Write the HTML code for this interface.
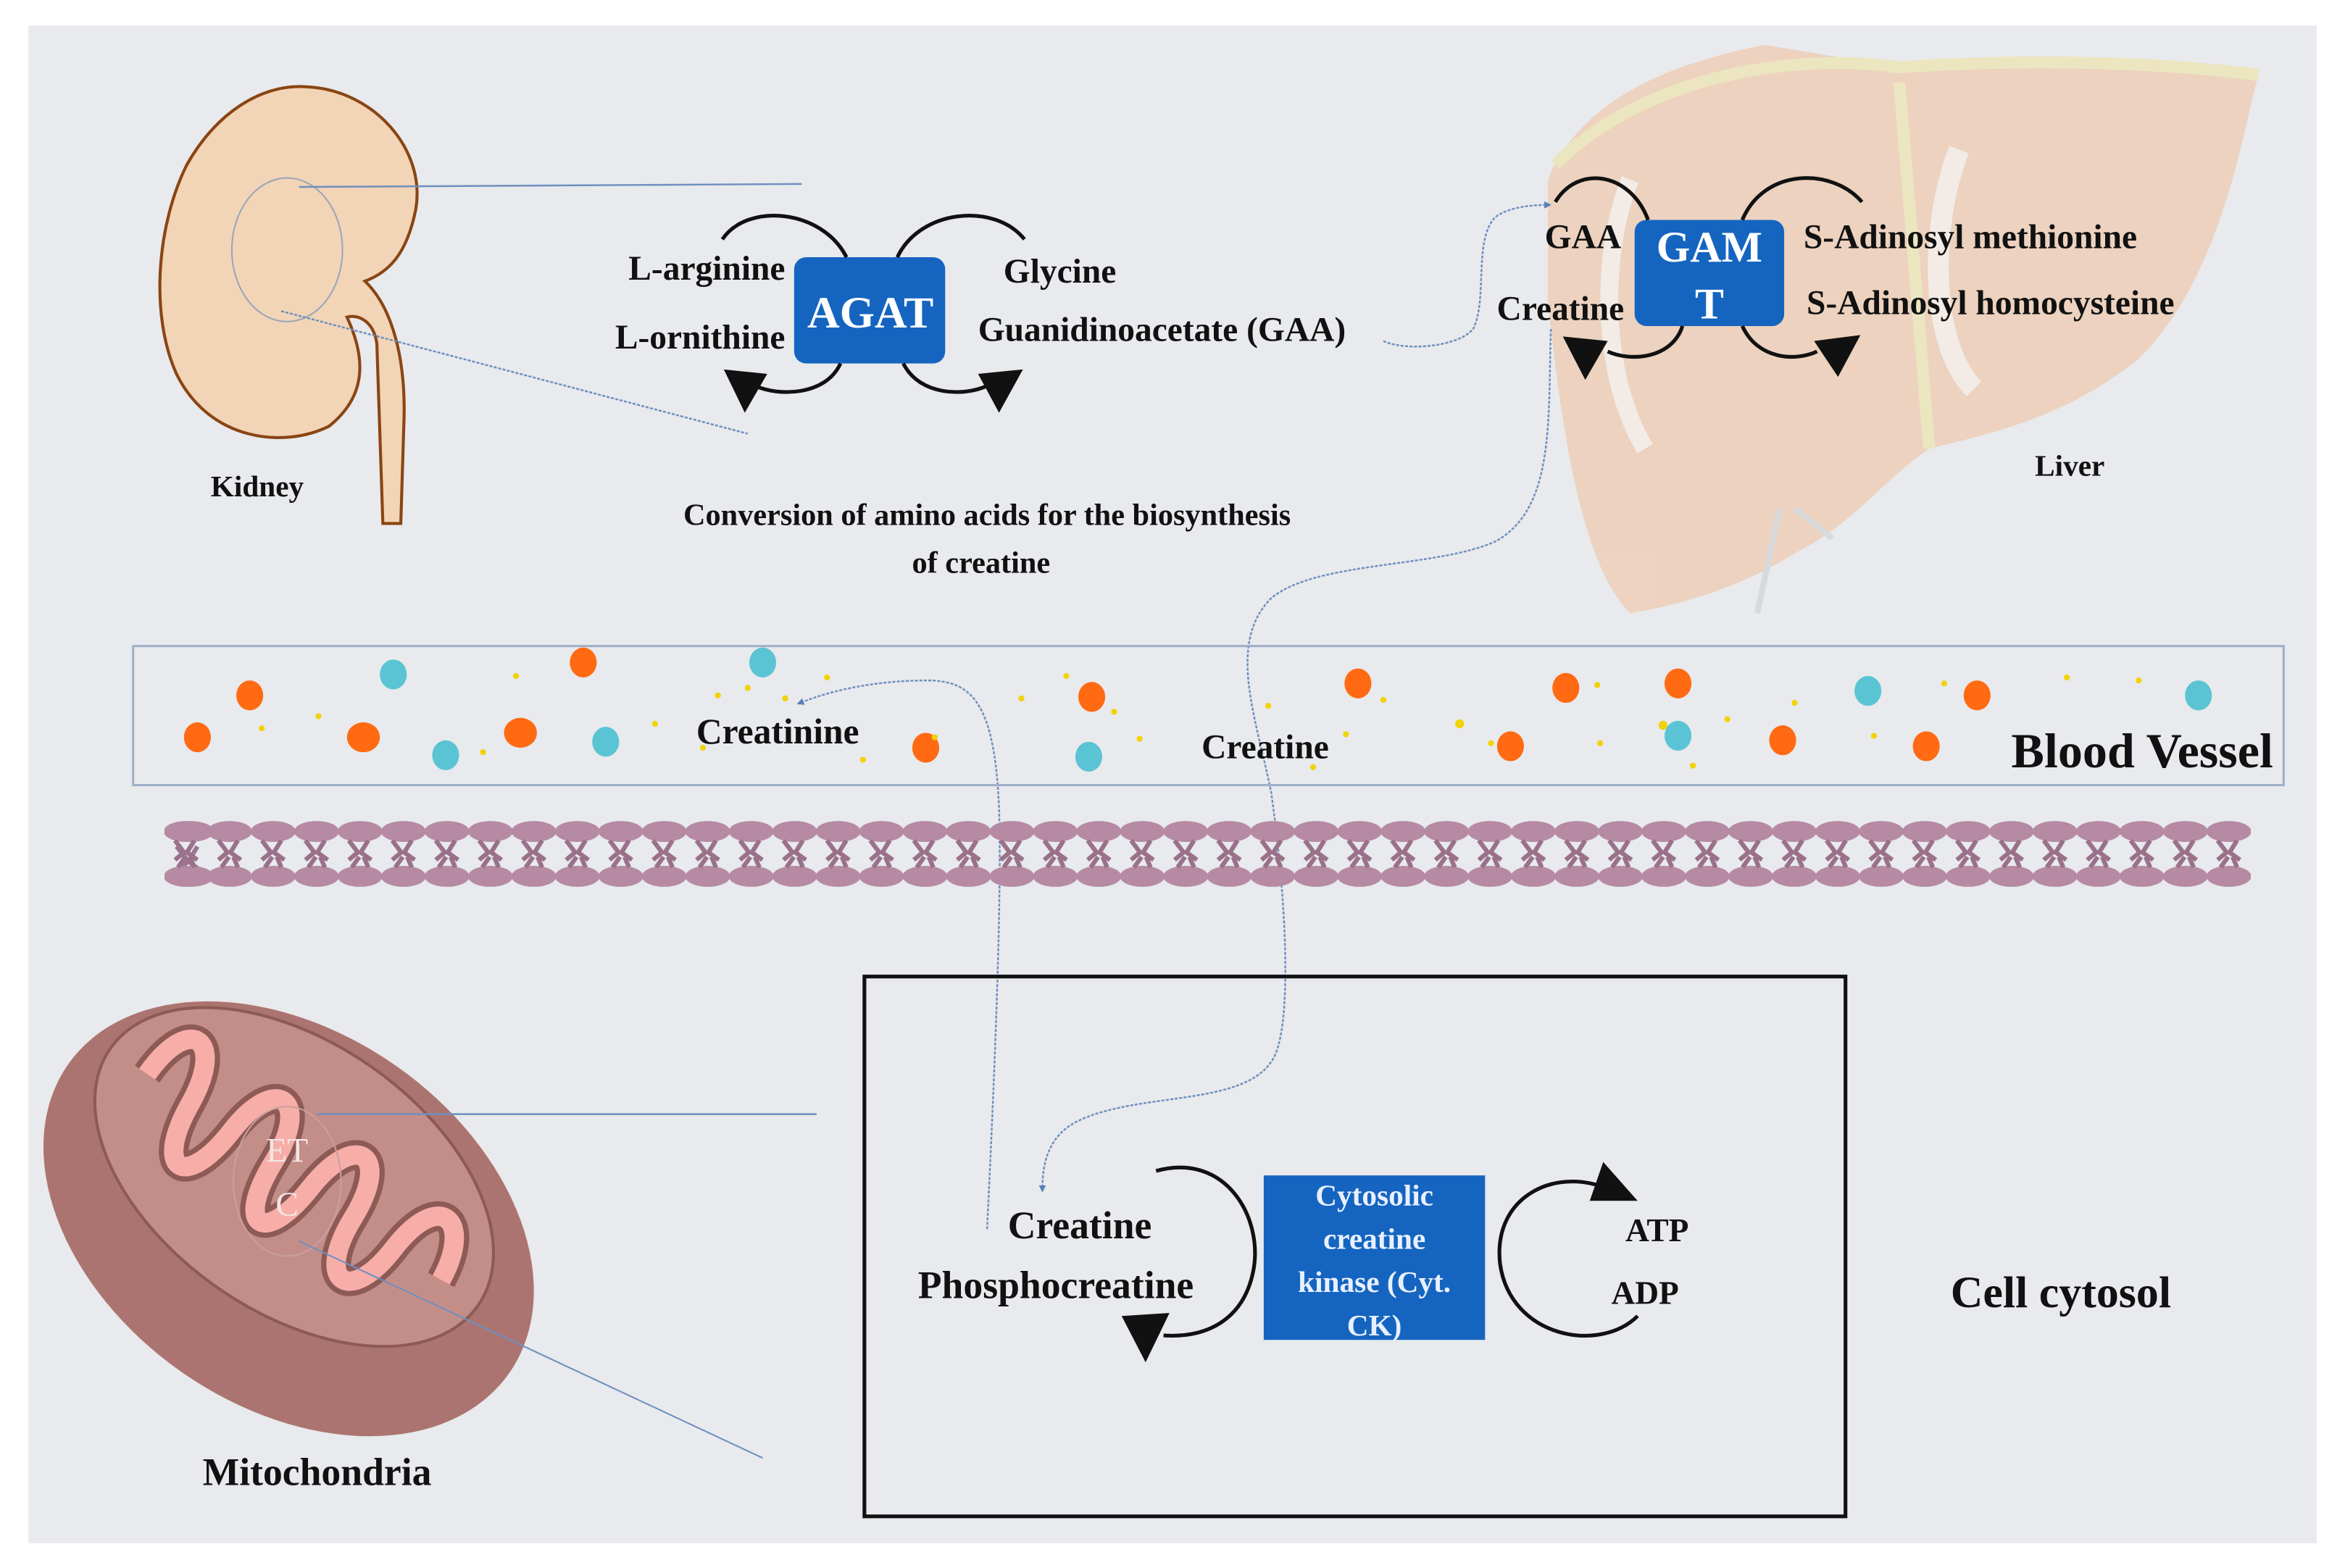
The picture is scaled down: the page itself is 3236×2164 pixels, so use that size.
<!DOCTYPE html>
<html><head><meta charset="utf-8"><style>html,body{margin:0;padding:0;background:#fff}svg{display:block}text{font-family:"Liberation Serif",serif;font-weight:bold;fill:#111}</style></head>
<body>
<svg width="3236" height="2164" viewBox="0 0 1568 1048.5" xmlns="http://www.w3.org/2000/svg">
<defs>
<marker id="ah" viewBox="0 0 10 10" refX="5" refY="5" markerWidth="4" markerHeight="4" orient="auto"><path d="M0,0 L10,5 L0,10 z" fill="#5b7fb5"/></marker>
</defs>
<rect x="0" y="0" width="1568" height="1048.5" fill="#fff"/>
<rect x="19" y="17" width="1530" height="1015" fill="#e8eaed"/>

<!-- Liver -->
<g opacity="0.55">
<path d="M1035,120 C1060,60 1130,40 1180,30 L1270,45 C1340,40 1430,35 1510,50 L1505,70 C1490,140 1470,200 1430,240 C1380,280 1330,290 1290,300 C1260,320 1240,350 1200,370 C1160,395 1120,405 1090,410 C1060,380 1045,300 1035,200 Z" fill="#f0c09a"/>
<path d="M1270,55 L1290,300 M1040,110 C1100,50 1200,35 1270,45 C1340,40 1430,40 1510,50" stroke="#efe39a" stroke-width="8" fill="none"/>
<path d="M1190,340 L1175,410 M1200,340 L1225,360" stroke="#ccc" stroke-width="4" fill="none"/>
<path d="M1310,100 C1290,150 1290,230 1320,260" stroke="#fff" stroke-width="14" fill="none" opacity="0.7"/>
<path d="M1090,120 C1070,170 1070,250 1100,300" stroke="#fff" stroke-width="12" fill="none" opacity="0.7"/>
</g>

<!-- Kidney -->
<path d="M205,58 C250,60 285,100 278,140 C272,170 260,182 244,188 C262,205 272,240 270,285 L268,350 L256,350 L252,230 C250,215 240,210 232,212 C245,240 245,265 220,285 C190,300 140,295 118,250 C100,210 105,150 125,110 C145,75 175,56 205,58 Z" fill="#f2d4b7" stroke="#8a4513" stroke-width="2"/>
<ellipse cx="192" cy="167" rx="37" ry="48" fill="none" stroke="#9aa6b8" stroke-width="1"/>
<line x1="200" y1="125" x2="536" y2="123" stroke="#6f8fc0" stroke-width="1.2"/>
<line x1="188" y1="208" x2="500" y2="290" stroke="#6f8fc0" stroke-width="1.2" stroke-dasharray="2,1"/>
<text x="172" y="332" font-size="20" text-anchor="middle">Kidney</text>

<!-- AGAT -->
<rect x="531" y="172" width="101" height="71" rx="8" fill="#1565c0"/>
<text x="582" y="219" font-size="30" text-anchor="middle" style="fill:#fff">AGAT</text>
<g fill="none" stroke="#111" stroke-width="2.5">
<path d="M483,160 C500,135 550,140 566,172"/>
<path d="M600,172 C615,140 665,135 685,160"/>
<path d="M562,243 C552,265 520,265 505,258"/>
<path d="M604,243 C615,265 645,265 660,258"/>
</g>
<path d="M484,247 L513,250 L498,276 Z" fill="#111"/>
<path d="M654,250 L684,247 L668,276 Z" fill="#111"/>
<text x="525" y="187" font-size="23" text-anchor="end">L-arginine</text>
<text x="525" y="233" font-size="23" text-anchor="end">L-ornithine</text>
<text x="671" y="189" font-size="23">Glycine</text>
<text x="654" y="228" font-size="23">Guanidinoacetate (GAA)</text>
<text x="660" y="351" font-size="20.5" text-anchor="middle">Conversion of amino acids for the biosynthesis</text>
<text x="656" y="383" font-size="20.5" text-anchor="middle">of creatine</text>

<!-- GAMT -->
<path d="M925,228 C940,235 975,232 985,220 C995,200 985,160 1000,145 C1010,138 1025,137 1035,137" fill="none" stroke="#6f8fc0" stroke-width="1.2" stroke-dasharray="2,1" marker-end="url(#ah)"/>
<rect x="1093" y="147" width="100" height="71" rx="8" fill="#1565c0"/>
<text x="1143" y="175" font-size="29" text-anchor="middle" style="fill:#fff">GAM</text>
<text x="1143" y="213" font-size="29" text-anchor="middle" style="fill:#fff">T</text>
<g fill="none" stroke="#111" stroke-width="2.5">
<path d="M1040,135 C1055,110 1090,115 1102,147"/>
<path d="M1165,147 C1180,112 1225,112 1245,135"/>
<path d="M1125,218 C1118,240 1090,242 1075,235"/>
<path d="M1165,218 C1175,240 1200,242 1215,235"/>
</g>
<path d="M1045,225 L1075,228 L1060,254 Z" fill="#111"/>
<path d="M1213,228 L1244,224 L1229,252 Z" fill="#111"/>
<text x="1084" y="166" font-size="23" text-anchor="end">GAA</text>
<text x="1086" y="214" font-size="23" text-anchor="end">Creatine</text>
<text x="1206" y="166" font-size="23">S-Adinosyl methionine</text>
<text x="1208" y="210" font-size="23">S-Adinosyl homocysteine</text>
<text x="1384" y="318" font-size="20" text-anchor="middle">Liver</text>

<!-- connectors -->
<path d="M1037,220 C1035,280 1040,340 1000,362 C960,380 880,375 850,400 C820,430 840,480 850,530 C860,600 865,690 850,710 C830,740 760,730 720,750 C700,760 697,780 697,795" fill="none" stroke="#6f8fc0" stroke-width="1.2" stroke-dasharray="2,1" marker-end="url(#ah)"/>
<path d="M660,822 C665,720 670,600 668,540 C665,470 650,455 620,455 C590,455 560,460 535,470" fill="none" stroke="#6f8fc0" stroke-width="1.2" stroke-dasharray="2,1" marker-end="url(#ah)"/>

<!-- Blood vessel -->
<rect x="89" y="432" width="1438" height="93" fill="none" stroke="#9fb0c8" stroke-width="1.5"/>
<g fill="#ff6a13">
<ellipse cx="167" cy="465" rx="9" ry="10"/><ellipse cx="132" cy="493" rx="9" ry="10"/><ellipse cx="243" cy="493" rx="11" ry="10"/><ellipse cx="348" cy="490" rx="11" ry="10"/><ellipse cx="390" cy="443" rx="9" ry="10"/><ellipse cx="730" cy="466" rx="9" ry="10"/><ellipse cx="619" cy="500" rx="9" ry="10"/><ellipse cx="908" cy="457" rx="9" ry="10"/><ellipse cx="1047" cy="460" rx="9" ry="10"/><ellipse cx="1122" cy="457" rx="9" ry="10"/><ellipse cx="1010" cy="499" rx="9" ry="10"/><ellipse cx="1192" cy="495" rx="9" ry="10"/><ellipse cx="1288" cy="499" rx="9" ry="10"/><ellipse cx="1322" cy="465" rx="9" ry="10"/>
</g>
<g fill="#5bc4d4">
<ellipse cx="263" cy="451" rx="9" ry="10"/><ellipse cx="298" cy="505" rx="9" ry="10"/><ellipse cx="405" cy="496" rx="9" ry="10"/><ellipse cx="510" cy="443" rx="9" ry="10"/><ellipse cx="728" cy="506" rx="9" ry="10"/><ellipse cx="1122" cy="492" rx="9" ry="10"/><ellipse cx="1249" cy="462" rx="9" ry="10"/><ellipse cx="1470" cy="465" rx="9" ry="10"/>
</g>
<g fill="#f2d20a">
<circle cx="213" cy="479" r="2"/><circle cx="175" cy="487" r="2"/><circle cx="323" cy="503" r="2"/><circle cx="345" cy="452" r="2"/><circle cx="438" cy="484" r="2"/><circle cx="470" cy="500" r="2"/><circle cx="480" cy="465" r="2"/><circle cx="500" cy="460" r="2"/><circle cx="525" cy="467" r="2"/><circle cx="553" cy="453" r="2"/><circle cx="577" cy="508" r="2"/><circle cx="625" cy="493" r="2"/><circle cx="683" cy="467" r="2"/><circle cx="713" cy="452" r="2"/><circle cx="745" cy="476" r="2"/><circle cx="762" cy="494" r="2"/><circle cx="848" cy="472" r="2"/><circle cx="878" cy="513" r="2"/><circle cx="900" cy="491" r="2"/><circle cx="925" cy="468" r="2"/><circle cx="976" cy="484" r="3"/><circle cx="997" cy="497" r="2"/><circle cx="1068" cy="458" r="2"/><circle cx="1070" cy="497" r="2"/><circle cx="1112" cy="485" r="3"/><circle cx="1132" cy="512" r="2"/><circle cx="1155" cy="481" r="2"/><circle cx="1200" cy="470" r="2"/><circle cx="1253" cy="492" r="2"/><circle cx="1300" cy="457" r="2"/><circle cx="1382" cy="453" r="2"/><circle cx="1430" cy="455" r="2"/>
</g>
<text x="520" y="497" font-size="24" text-anchor="middle">Creatinine</text>
<text x="846" y="507" font-size="23" text-anchor="middle">Creatine</text>
<text x="1520" y="513" font-size="33" text-anchor="end">Blood Vessel</text>

<!-- Membrane -->
<g id="mem">
<g fill="none" stroke="#9c7590" stroke-width="3">
<path d="M118,566 l8,10 l-8,6 M132,566 l-6,10 l8,6" id="t"/>
</g>
</g>
<g>
<path d="M110,557 L1505,557" stroke="#b58aa2" stroke-width="0"/>
</g>
<g fill="#b48aa4" id="heads"></g>
<g id="membrane">
</g>
<g fill="#b58aa2">
<ellipse cx="127" cy="556" rx="16" ry="7"/><ellipse cx="127" cy="586" rx="16" ry="7"/>
</g>
<pattern id="mp" x="110" y="548" width="29.06" height="46" patternUnits="userSpaceOnUse">
<ellipse cx="14.5" cy="8" rx="15" ry="7" fill="#b58aa2"/>
<ellipse cx="14.5" cy="38" rx="15" ry="7" fill="#b58aa2"/>
<path d="M7,14 l6,8 l-6,5 M20,14 l-5,8 l7,5 M9,32 l5,-7 M20,32 l-3,-7" stroke="#9a7189" stroke-width="3" fill="none"/>
</pattern>
<rect x="110" y="548" width="1395" height="46" fill="url(#mp)"/>

<!-- Mitochondria -->
<g transform="rotate(35 193 815)">
<ellipse cx="193" cy="815" rx="180" ry="125" fill="#ac7470"/>
<ellipse cx="180" cy="790" rx="150" ry="90" fill="#c48e88" stroke="#8d5a56" stroke-width="2"/>
<path d="M60,790 C60,740 90,740 95,790 C100,840 125,840 128,790 C130,740 160,740 163,790 C166,840 190,840 193,790 C196,740 225,740 228,790 C231,840 260,840 262,790 C265,740 295,745 300,790" fill="none" stroke="#8d5a56" stroke-width="20"/>
<path d="M60,790 C60,740 90,740 95,790 C100,840 125,840 128,790 C130,740 160,740 163,790 C166,840 190,840 193,790 C196,740 225,740 228,790 C231,840 260,840 262,790 C265,740 295,745 300,790" fill="none" stroke="#f7aea8" stroke-width="13"/>
</g>
<ellipse cx="192" cy="790" rx="36" ry="50" fill="none" stroke="#c8a0a0" stroke-width="1"/>
<text x="192" y="777" font-size="23" text-anchor="middle" style="fill:#f4e6e4;font-weight:normal">ET</text>
<text x="192" y="813" font-size="23" text-anchor="middle" style="fill:#f4e6e4;font-weight:normal">C</text>
<line x1="212" y1="745" x2="546" y2="745" stroke="#6f8fc0" stroke-width="1.2"/>
<line x1="200" y1="830" x2="510" y2="975" stroke="#6f8fc0" stroke-width="1"/>
<text x="212" y="993" font-size="26" text-anchor="middle">Mitochondria</text>

<!-- Cell cytosol -->
<rect x="578" y="653" width="656" height="361" fill="none" stroke="#111" stroke-width="2.5"/>
<rect x="845" y="786" width="148" height="110" fill="#1565c0"/>
<g style="font-weight:normal" font-size="20" text-anchor="middle">
<text x="919" y="806" style="fill:#e8f0ff">Cytosolic</text>
<text x="919" y="835" style="fill:#e8f0ff">creatine</text>
<text x="919" y="864" style="fill:#e8f0ff">kinase (Cyt.</text>
<text x="919" y="893" style="fill:#e8f0ff">CK)</text>
</g>
<text x="722" y="828" font-size="26" text-anchor="middle">Creatine</text>
<text x="706" y="868" font-size="26" text-anchor="middle">Phosphocreatine</text>
<path d="M773,783 C820,770 845,815 838,850 C832,880 810,895 778,893" fill="none" stroke="#111" stroke-width="2.5"/>
<path d="M750,880 L782,878 L766,911 Z" fill="#111"/>
<path d="M1095,880 C1070,905 1010,895 1003,845 C998,800 1040,780 1075,795" fill="none" stroke="#111" stroke-width="2.5"/>
<path d="M1072,777 L1095,803 L1063,803 Z" fill="#111"/>
<text x="1108" y="830" font-size="22" text-anchor="middle">ATP</text>
<text x="1100" y="872" font-size="22" text-anchor="middle">ADP</text>
<text x="1378" y="874" font-size="30" text-anchor="middle">Cell cytosol</text>
</svg>
</body></html>
